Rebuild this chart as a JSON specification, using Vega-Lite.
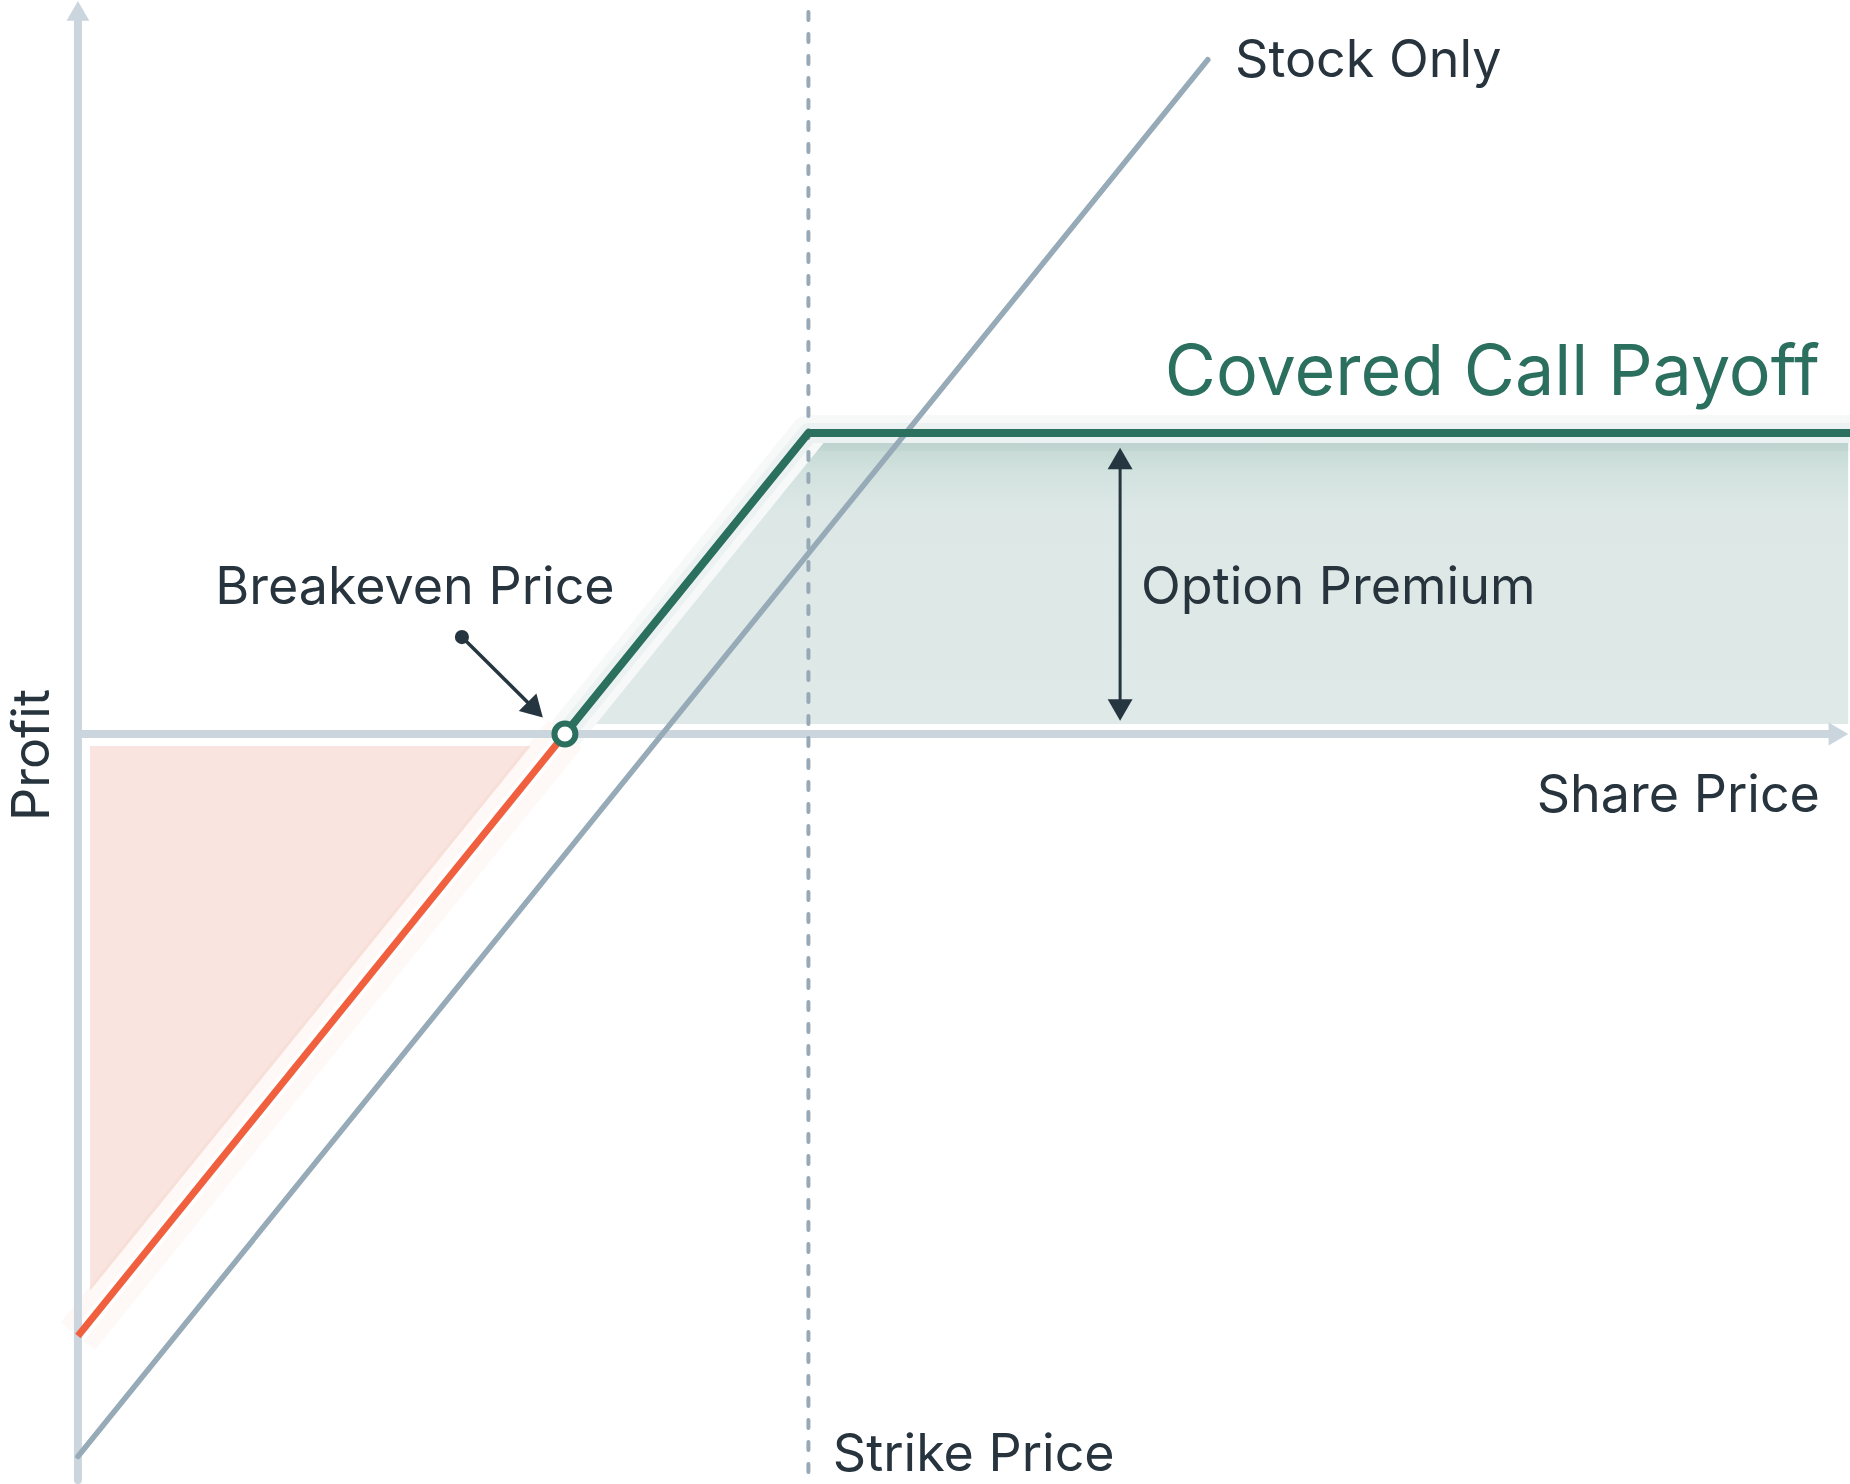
{
  "$schema": "https://vega.github.io/schema/vega-lite/v6.json",
  "width": 1850,
  "height": 1484,
  "padding": 0,
  "autosize": {"type": "none"},
  "background": "#ffffff",
  "config": {"view": {"stroke": null}, "font": "Inter"},
  "datasets": {
    "payoff": [{"price": 20, "profit": 0}, {"price": 30, "profit": 10}, {"price": 73.5, "profit": 10}],
    "loss": [{"price": 0, "profit": -20}, {"price": 20, "profit": 0}],
    "stock": [{"price": 0, "profit": -24}, {"price": 46.4, "profit": 22.4}],
    "gainZone": [{"price": 21.28, "top": 0.33, "base": 0.33}, {"price": 30.62, "top": 9.67, "base": 0.33}, {"price": 72.7, "top": 9.67, "base": 0.33}],
    "lossZone": [{"price": 0.5, "top": -0.4, "base": -18.5}, {"price": 18.6, "top": -0.4, "base": -0.4}],
    "axes": [
      {"name": "profit", "price": 0, "price2": 0, "profit": -24.78, "profit2": 23.9},
      {"name": "price", "price": 0, "price2": 72.1, "profit": 0, "profit2": 0}
    ],
    "axisHeads": [
      {"name": "profit", "price": 0, "profit": 24.02, "shape": "triangle-up"},
      {"name": "price", "price": 72.3, "profit": 0, "shape": "triangle-right"}
    ],
    "strike": [{"price": 30, "profit": 23.99, "profit2": -24.72}],
    "premium": [{"price": 42.8, "profit": 0.9, "profit2": 9.1}],
    "premiumHeads": [
      {"price": 42.8, "profit": 9.15, "shape": "triangle-up"},
      {"price": 42.8, "profit": 0.8, "shape": "triangle-down"}
    ],
    "pointer": [{"price": 15.77, "profit": 3.22, "price2": 18.6, "profit2": 0.95}],
    "pointerHead": [{"price": 18.78, "profit": 0.8}],
    "breakeven": [{"price": 20, "profit": 0}],
    "labelsCenter": [
      {"text": "Breakeven Price", "price": 13.84, "profit": 4.85}
    ],
    "labelsLeft": [
      {"text": "Option Premium", "price": 43.66, "profit": 4.85},
      {"text": "Stock Only", "price": 47.52, "profit": 22.36},
      {"text": "Strike Price", "price": 31.0, "profit": -23.95}
    ],
    "labelsRight": [
      {"text": "Share Price", "price": 71.54, "profit": -2.06}
    ],
    "title": [{"text": "Covered Call Payoff", "price": 71.54, "profit": 11.96}],
    "ylabel": [{"text": "Profit", "price": -1.85, "profit": -0.7}]
  },
  "encoding": {
    "x": {"field": "price", "type": "quantitative", "scale": {"domain": [-3.2, 72.775], "nice": false, "zero": false}, "axis": null},
    "y": {"field": "profit", "type": "quantitative", "scale": {"domain": [-24.917, 24.385], "nice": false, "zero": false}, "axis": null}
  },
  "layer": [
    {
      "data": {"name": "gainZone"},
      "mark": {"type": "area", "color": {"gradient": "linear", "x1": 0, "y1": 0, "x2": 0, "y2": 1, "stops": [{"offset": 0, "color": "#c4d8d4"}, {"offset": 0.1, "color": "#d2e2de"}, {"offset": 0.25, "color": "#dde8e6"}, {"offset": 1, "color": "#dfe9e7"}]}},
      "encoding": {"y": {"field": "top", "type": "quantitative"}, "y2": {"field": "base"}}
    },
    {
      "data": {"name": "lossZone"},
      "mark": {"type": "area", "color": "#f9e4df"},
      "encoding": {"y": {"field": "top", "type": "quantitative"}, "y2": {"field": "base"}}
    },
    {
      "data": {"name": "loss"},
      "mark": {"type": "line", "color": "#f0603f", "strokeWidth": 44, "opacity": 0.04},
      "encoding": {}
    },
    {
      "data": {"name": "loss"},
      "mark": {"type": "line", "color": "#ffffff", "strokeWidth": 15, "opacity": 0.9},
      "encoding": {}
    },
    {
      "data": {"name": "payoff"},
      "mark": {"type": "line", "color": "#2b6f5f", "strokeWidth": 36, "opacity": 0.04, "strokeJoin": "round"},
      "encoding": {}
    },
    {
      "data": {"name": "payoff"},
      "mark": {"type": "line", "color": "#2b6f5f", "strokeWidth": 20, "opacity": 0.05, "strokeJoin": "round"},
      "encoding": {}
    },
    {
      "data": {"name": "axes"},
      "mark": {"type": "rule", "color": "#cbd5de", "strokeWidth": 8, "strokeCap": "round"},
      "encoding": {"x2": {"field": "price2"}, "y2": {"field": "profit2"}}
    },
    {
      "data": {"name": "axisHeads"},
      "mark": {"type": "point", "filled": true, "color": "#cbd5de", "size": 520, "opacity": 1},
      "encoding": {"shape": {"field": "shape", "type": "nominal", "scale": null}}
    },
    {
      "data": {"name": "strike"},
      "mark": {"type": "rule", "color": "#97a9b6", "strokeWidth": 4, "strokeDash": [8, 14], "strokeCap": "round"},
      "encoding": {"y2": {"field": "profit2"}}
    },
    {
      "data": {"name": "stock"},
      "mark": {"type": "line", "color": "#97aab7", "strokeWidth": 5.5, "strokeCap": "round"},
      "encoding": {}
    },
    {
      "data": {"name": "loss"},
      "mark": {"type": "line", "color": "#f0603f", "strokeWidth": 7},
      "encoding": {}
    },
    {
      "data": {"name": "payoff"},
      "mark": {"type": "line", "color": "#2b6f5f", "strokeWidth": 8, "strokeJoin": "round"},
      "encoding": {}
    },
    {
      "data": {"name": "breakeven"},
      "mark": {"type": "point", "shape": "circle", "filled": true, "fill": "#ffffff", "stroke": "#2b6f5f", "strokeWidth": 6, "size": 441, "opacity": 1},
      "encoding": {}
    },
    {
      "data": {"name": "premium"},
      "mark": {"type": "rule", "color": "#263640", "strokeWidth": 3},
      "encoding": {"y2": {"field": "profit2"}}
    },
    {
      "data": {"name": "premiumHeads"},
      "mark": {"type": "point", "filled": true, "color": "#263640", "size": 620, "opacity": 1},
      "encoding": {"shape": {"field": "shape", "type": "nominal", "scale": null}}
    },
    {
      "data": {"name": "pointer"},
      "mark": {"type": "rule", "color": "#263640", "strokeWidth": 3.5},
      "encoding": {"x2": {"field": "price2"}, "y2": {"field": "profit2"}}
    },
    {
      "data": {"name": "pointer"},
      "mark": {"type": "point", "shape": "circle", "filled": true, "color": "#263640", "size": 200, "opacity": 1},
      "encoding": {}
    },
    {
      "data": {"name": "pointerHead"},
      "mark": {"type": "point", "shape": "triangle-down", "angle": -45, "filled": true, "color": "#263640", "size": 620, "opacity": 1},
      "encoding": {}
    },
    {
      "data": {"name": "labelsCenter"},
      "mark": {"type": "text", "font": "Inter", "fontSize": 52, "color": "#27343e", "baseline": "middle", "align": "center"},
      "encoding": {"text": {"field": "text"}}
    },
    {
      "data": {"name": "labelsLeft"},
      "mark": {"type": "text", "font": "Inter", "fontSize": 52, "color": "#27343e", "baseline": "middle", "align": "left"},
      "encoding": {"text": {"field": "text"}}
    },
    {
      "data": {"name": "labelsRight"},
      "mark": {"type": "text", "font": "Inter", "fontSize": 52, "color": "#27343e", "baseline": "middle", "align": "right"},
      "encoding": {"text": {"field": "text"}}
    },
    {
      "data": {"name": "title"},
      "mark": {"type": "text", "font": "Inter", "fontSize": 70, "color": "#2b6f5f", "baseline": "middle", "align": "right"},
      "encoding": {"text": {"field": "text"}}
    },
    {
      "data": {"name": "ylabel"},
      "mark": {"type": "text", "font": "Inter", "fontSize": 52, "color": "#27343e", "baseline": "middle", "align": "center", "angle": 270},
      "encoding": {"text": {"field": "text"}}
    }
  ]
}
